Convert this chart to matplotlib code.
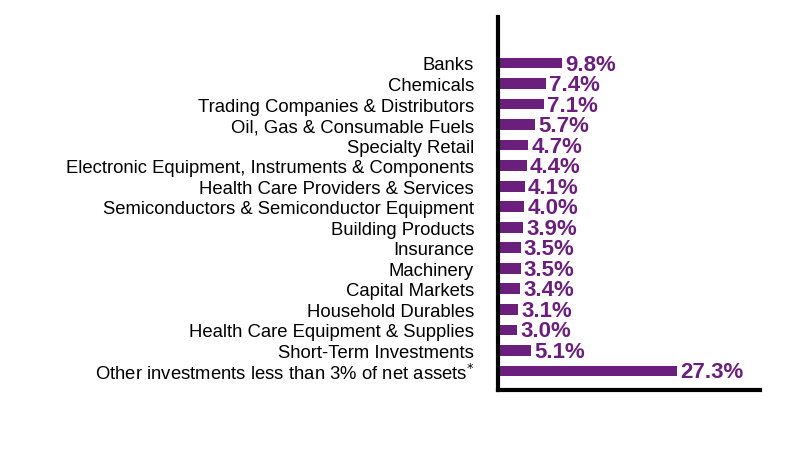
import matplotlib
matplotlib.use("Agg")
import matplotlib.pyplot as plt

plt.rcParams['font.family'] = ['Liberation Sans', 'DejaVu Sans']

categories = [
    "Banks",
    "Chemicals",
    "Trading Companies & Distributors",
    "Oil, Gas & Consumable Fuels",
    "Specialty Retail",
    "Electronic Equipment, Instruments & Components",
    "Health Care Providers & Services",
    "Semiconductors & Semiconductor Equipment",
    "Building Products",
    "Insurance",
    "Machinery",
    "Capital Markets",
    "Household Durables",
    "Health Care Equipment & Supplies",
    "Short-Term Investments",
    "Other investments less than 3% of net assets$^{*}$",
]
values = [9.8, 7.4, 7.1, 5.7, 4.7, 4.4, 4.1, 4.0, 3.9, 3.5, 3.5, 3.4, 3.1, 3.0, 5.1, 27.3]

purple = "#6B1F7C"

fig = plt.figure(figsize=(8.04, 4.56), dpi=100)
ax = fig.add_axes([0.619, 0.1425, 0.326, 0.818])

pos = list(range(len(categories)))
ax.barh(pos, values, height=0.52, color=purple)

for p, v in zip(pos, values):
    ax.text(v + 0.5, p + 0.05, f"{v:.1f}%", va="center", ha="left",
            color=purple, fontsize=16, fontweight="bold")

ax.set_yticks(pos)
ax.set_yticklabels(categories, fontsize=13.3)
ax.tick_params(axis="y", length=0, pad=17)
ax.set_xticks([])
ax.set_xlim(0, 40)
ax.set_ylim(15.93, -2.24)

for side in ["top", "right"]:
    ax.spines[side].set_visible(False)
for side in ["left", "bottom"]:
    ax.spines[side].set_linewidth(3)
    ax.spines[side].set_color("black")

fig.savefig("out.png", dpi=100)
